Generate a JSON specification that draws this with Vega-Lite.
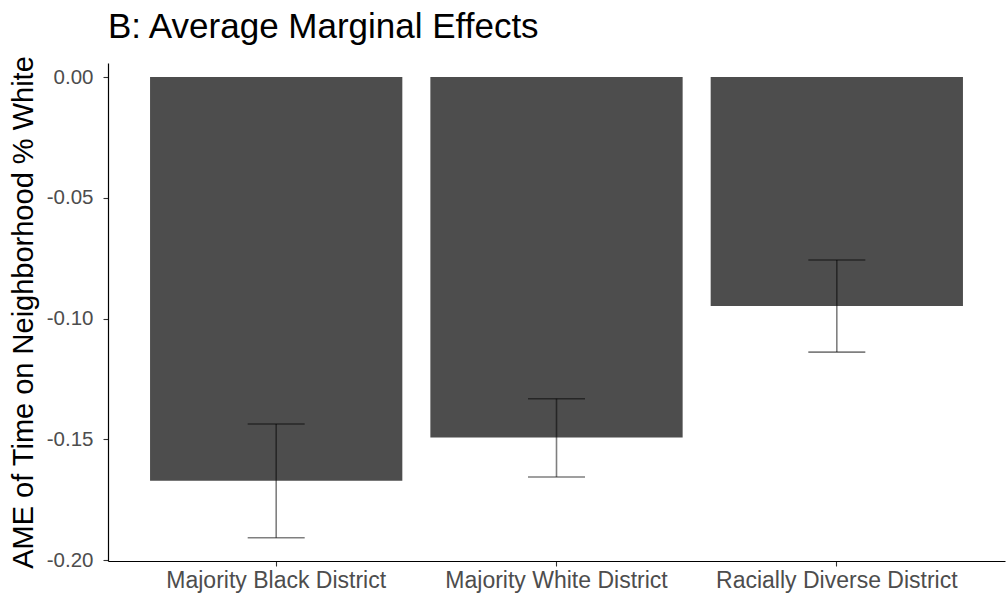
{
  "$schema": "https://vega.github.io/schema/vega-lite/v6.json",
  "width": 897,
  "height": 498,
  "autosize": {"type": "none"},
  "padding": {"left": 108, "top": 63, "right": 1, "bottom": 33},
  "background": "white",
  "title": {
    "text": "B: Average Marginal Effects",
    "anchor": "start",
    "frame": "group",
    "font": "Liberation Sans",
    "fontSize": 35,
    "fontWeight": "normal",
    "color": "black",
    "offset": 10
  },
  "data": {
    "values": [
      {"district": "Majority Black District", "ame": -0.1672, "lo": -0.1908, "hi": -0.1437},
      {"district": "Majority White District", "ame": -0.1493, "lo": -0.1656, "hi": -0.1332},
      {"district": "Racially Diverse District", "ame": -0.0948, "lo": -0.1139, "hi": -0.0758}
    ]
  },
  "encoding": {
    "x": {
      "field": "district",
      "type": "nominal",
      "sort": null,
      "scale": {"paddingInner": 0.1, "paddingOuter": 0.15},
      "axis": {
        "title": null,
        "labelAngle": 0,
        "labelLimit": 0,
        "labelFont": "Liberation Sans",
        "labelFontSize": 23,
        "labelColor": "#4D4D4D",
        "labelPadding": 3,
        "domainColor": "black",
        "domainWidth": 1.2,
        "tickColor": "#333333",
        "tickSize": 5,
        "tickWidth": 1.1
      }
    }
  },
  "layer": [
    {
      "mark": {"type": "bar", "color": "#4D4D4D"},
      "encoding": {
        "y": {
          "field": "ame",
          "type": "quantitative",
          "scale": {"domain": [-0.2004, 0.0058], "nice": false, "zero": false},
          "axis": {
            "title": "AME of Time on Neighborhood % White",
            "titleFont": "Liberation Sans",
            "titleFontSize": 29,
            "titleFontWeight": "normal",
            "titleColor": "black",
            "titlePadding": 8,
            "values": [0, -0.05, -0.1, -0.15, -0.2],
            "labelExpr": "datum.value < -0.0001 ? '-' + format(-datum.value, '.2f') : format(0, '.2f')",
            "labelFont": "Liberation Sans",
            "labelFontSize": 20.5,
            "labelColor": "#4D4D4D",
            "labelPadding": 10,
            "grid": false,
            "domainColor": "black",
            "domainWidth": 1.2,
            "tickColor": "#333333",
            "tickSize": 5,
            "tickWidth": 1.1
          }
        },
        "y2": {"datum": 0}
      }
    },
    {
      "mark": {"type": "rule", "color": "black", "opacity": 0.5, "strokeWidth": 1.6},
      "encoding": {
        "y": {"field": "lo", "type": "quantitative"},
        "y2": {"field": "hi"}
      }
    },
    {
      "mark": {"type": "tick", "color": "black", "opacity": 0.5, "size": 57, "thickness": 1.6},
      "encoding": {
        "y": {"field": "lo", "type": "quantitative"}
      }
    },
    {
      "mark": {"type": "tick", "color": "black", "opacity": 0.5, "size": 57, "thickness": 1.6},
      "encoding": {
        "y": {"field": "hi", "type": "quantitative"}
      }
    }
  ],
  "config": {
    "view": {"stroke": null}
  }
}
